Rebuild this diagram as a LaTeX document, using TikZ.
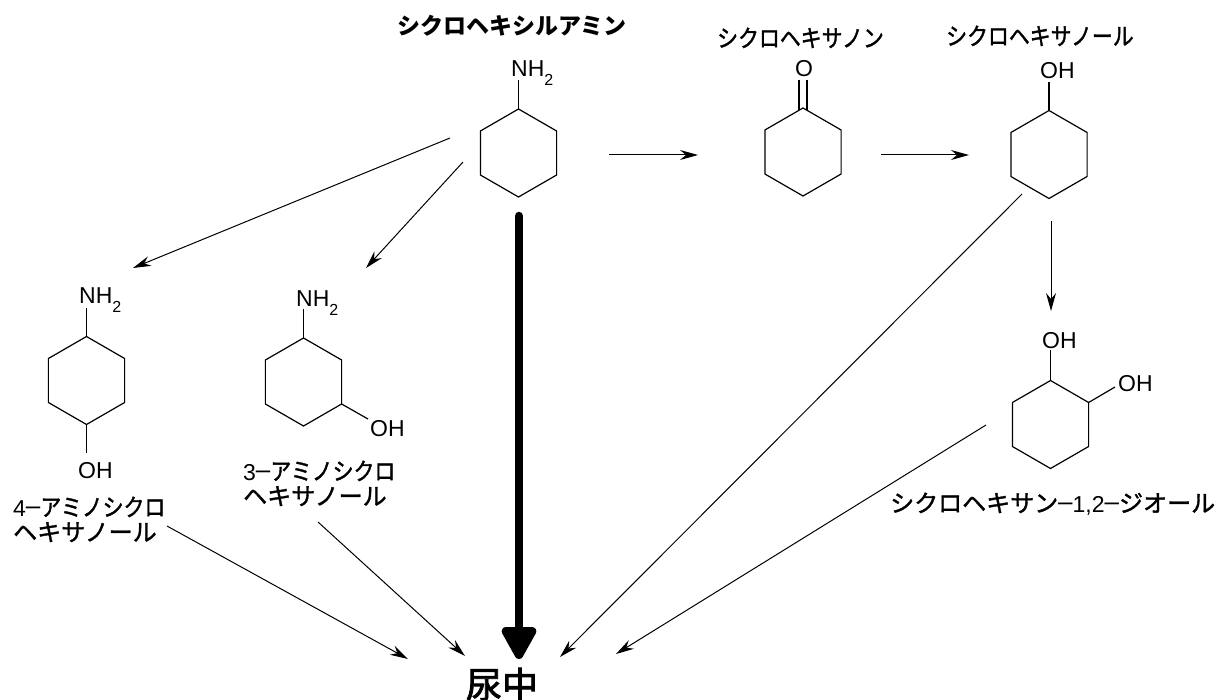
\documentclass[tikz,border=0pt]{standalone}
\usepackage{fontspec}
\setmainfont{Liberation Sans}
\newfontfamily\cjk[FakeBold=1.5,FakeStretch=0.87]{Noto Sans CJK JP}
\newfontfamily\cjkwide[FakeBold=1.5]{Noto Sans CJK JP}
\newfontfamily\cjkheavy[FakeBold=2.5]{Noto Sans CJK JP}
\newfontfamily\cjkb{Noto Sans CJK JP}
\newfontfamily\numfont{Liberation Sans}
\usetikzlibrary{arrows.meta}

\newcommand{\nhtwo}{NH\raisebox{-.35em}{\fontsize{16}{16}\selectfont 2}}
\newcommand{\hy}{{\numfont\fontsize{26}{26}\selectfont\raisebox{1.5pt}{–}}}
\newcommand{\digits}[1]{{\numfont\fontsize{23}{25}\selectfont #1}}

\begin{document}
\begin{tikzpicture}
[x=1pt,y=-1pt]
\tikzset{
	bond/.style = {line width=1.2pt, line join=round},
	rxn/.style = {line width=1pt, -{Stealth[length=18pt,width=10pt,inset=6pt]}},
	main/.style = {line width=8.5pt, line cap=round, -{Triangle[length=37pt,width=38pt,round,line join=round]}},
	atom/.style = {anchor=base west, inner sep=0, font=\fontsize{23}{23}\selectfont},
	compound/.style = {anchor=base west, inner sep=0, align=left, font=\cjk\fontsize{24}{25}\selectfont},
	ring/.pic = {
		\foreach \i in {1,...,6}
			\coordinate (-v\i) at (-150+60*\i:44);
		\draw[bond] (-v1) -- (-v2) -- (-v3) -- (-v4) -- (-v5) -- (-v6) -- cycle;
	}
}
\useasboundingbox (0,0) rectangle (1225,700);

% rings
\pic (amine) at (518.5,153) {ring};
\pic (one) at (803,152) {ring};
\pic (ol) at (1049,154.5) {ring};
\pic (four) at (86.5,380.5) {ring};
\pic (three) at (303.5,382) {ring};
\pic (diol) at (1050.5,424.5) {ring};

% groups on the rings
\node (nh2amine) [atom] at (511,77) {\nhtwo};
\node (oone) [atom] at (795,77) {O};
\node (ohol) [atom] at (1040,79) {OH};
\node (nh2four) [atom] at (79,304) {\nhtwo};
\node (ohfour) [atom] at (78,478) {OH};
\node (nh2three) [atom] at (296,307) {\nhtwo};
\node (ohthree) [atom] at (370,436) {OH};
\node (ohdiola) [atom] at (1042,348) {OH};
\node (ohdiolb) [atom] at (1118,391) {OH};

\coordinate (bamine) at (518.5,80);
\coordinate (bol) at (1049,82);
\coordinate (bfour) at (86.5,308.5);
\coordinate (cfour) at (86.5,453);
\coordinate (bthree) at (303.5,309.5);
\coordinate (cthree) at (368,419);
\coordinate (bdiol) at (1050.5,350);
\coordinate (cdiol) at (1115,387);
\coordinate (aone) at (799,80);
\coordinate (bone) at (799,110.5);
\coordinate (cone) at (807,80);
\coordinate (done) at (807,110.5);

\draw[bond] (amine-v1) -- (bamine);
\draw[bond] (ol-v1) -- (bol);
\draw[bond] (four-v1) -- (bfour);
\draw[bond] (four-v4) -- (cfour);
\draw[bond] (three-v1) -- (bthree);
\draw[bond] (three-v3) -- (cthree);
\draw[bond] (diol-v1) -- (bdiol);
\draw[bond] (diol-v2) -- (cdiol);
\draw[bond] (aone) -- (bone);
\draw[bond] (cone) -- (done);

% labels
\node (nameamine) [compound, font=\cjkb\bfseries\fontsize{23}{26}\selectfont] at (397,35) {シクロヘキシルアミン};
\node (nameone) [compound] at (717,47) {シクロヘキサノン};
\node (nameol) [compound] at (946,45) {シクロヘキサノール};
\node (namefour) [compound] at (13,541) {\digits{4}\hy アミノシクロ\\{\cjkwide ヘキサノール}};
\node (namethree) [compound] at (243,505) {\digits{3}\hy アミノシクロ\\{\cjkwide ヘキサノール}};
\node (namediol) [compound, font=\cjkwide\fontsize{24}{25}\selectfont] at (890,512) {シクロヘキサン\hy\digits{1,2}\hy ジオール};
\node (urine) [anchor=base, inner sep=0, font=\cjkheavy\fontsize{36}{36}\selectfont] at (502,698) {尿中};

% arrows
\coordinate (s1) at (450,138);
\coordinate (t1) at (133,268);
\coordinate (s2) at (463,162);
\coordinate (t2) at (366,268);
\coordinate (s3) at (609,155);
\coordinate (t3) at (698,155);
\coordinate (s4) at (881,155);
\coordinate (t4) at (969,155);
\coordinate (s5) at (1051,221);
\coordinate (t5) at (1051,311);
\coordinate (s6) at (1022,194);
\coordinate (t6) at (560,657);
\coordinate (s7) at (986,425);
\coordinate (t7) at (616,654);
\coordinate (s8) at (167,526);
\coordinate (t8) at (408,659);
\coordinate (s9) at (318,522);
\coordinate (t9) at (465,656);
\coordinate (s0) at (519,216);
\coordinate (t0) at (519,659);

\foreach \i in {1,...,9}
	\draw[rxn] (s\i) -- (t\i);
\draw[main] (s0) -- (t0);

\end{tikzpicture}
\end{document}
